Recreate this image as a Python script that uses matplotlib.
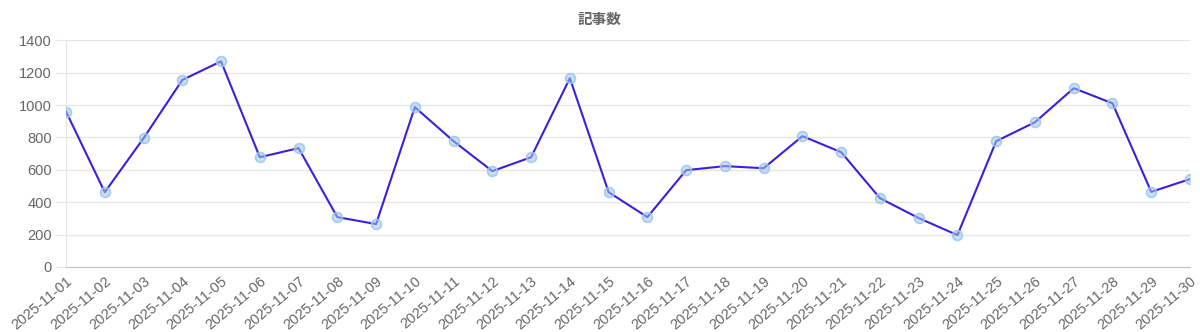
import matplotlib
matplotlib.use("Agg")
import matplotlib.pyplot as plt

dates = ["2025-11-%02d" % d for d in range(1, 31)]
counts = [960, 462, 795, 1155, 1270, 678, 734, 308, 265, 987,
          777, 592, 678, 1166, 462, 308, 598, 623, 610, 808,
          709, 425, 302, 197, 777, 894, 1104, 1011, 464, 543]
title = "記事数"
yticks = [0, 200, 400, 600, 800, 1000, 1200, 1400]

plt.rcParams['font.family'] = ['Liberation Sans', 'Noto Sans CJK JP', 'DejaVu Sans']

fig = plt.figure(figsize=(12, 3.32), dpi=100)
ax = fig.add_axes([66/1200, 1 - 267/332, (1190 - 66)/1200, (267 - 40.3)/332])

x = list(range(len(dates)))
ax.plot(x, counts, color='#3a1fe0', lw=1.5, zorder=3)
ax.scatter(x, counts, s=50, facecolor=(0.62, 0.78, 0.92, 0.55),
           edgecolor=(0.62, 0.78, 0.92, 0.9), linewidths=1.2, zorder=4)

ax.set_xlim(0, len(dates) - 1)
ax.set_ylim(0, 1400)
ax.set_yticks(yticks)
ax.set_xticks(x)
ax.set_xticklabels(dates, rotation=40, ha='right', rotation_mode='anchor')

ax.grid(axis='y', color='#e6e6e6', lw=1)
ax.set_axisbelow(True)
for s in ['top', 'right']:
    ax.spines[s].set_visible(False)
ax.spines['left'].set_color('#e6e6e6')
ax.spines['bottom'].set_color('#c4c4c4')
ax.tick_params(axis='y', length=8, color='#e6e6e6', labelsize=10.5, labelcolor='#666666', pad=2)
ax.tick_params(axis='x', length=0, labelsize=10.5, labelcolor='#666666', pad=5)

fig.text(600/1200, 1 - 19/332, title, ha='center', va='center', fontsize=10.5,
         color='#666666', family=['Noto Sans CJK JP', 'DejaVu Sans'], fontweight='bold')

fig.savefig("out.png", dpi=100, facecolor='white')
